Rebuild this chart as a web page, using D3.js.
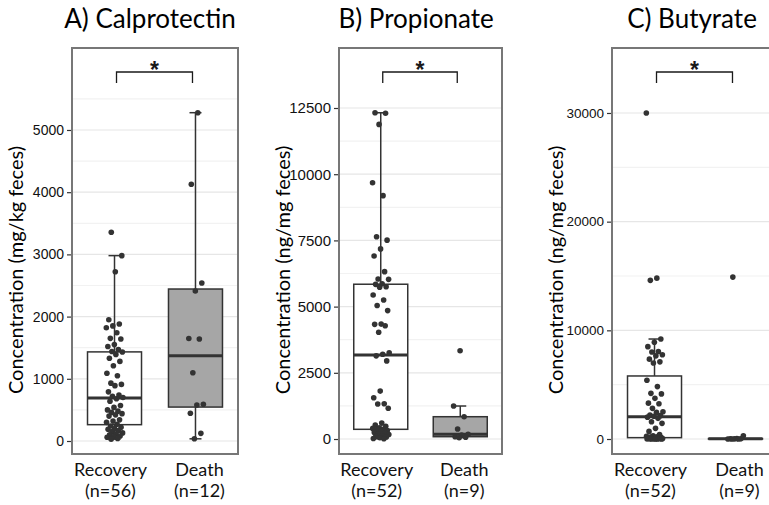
<!DOCTYPE html>
<html>
<head>
<meta charset="utf-8">
<script src="https://cdn.jsdelivr.net/npm/d3@7"></script>
<style>
body { margin: 0; background: #fff; }
svg text { font-family: "Liberation Sans", Arial, sans-serif; }
.lbl { font-family: Lato, "Open Sans", sans-serif !important; }
</style>
</head>
<body>
<script>
// categories
var groups = ["Recovery", "Death"];

// A) calprotectin, mg/kg feces
var calproRecovery = [3355, 2980, 2720, 1950, 1880, 1850, 1820, 1740, 1650, 1640, 1550, 1520, 1470, 1440,
  1430, 1390, 1330, 1280, 1210, 1090, 1050, 930, 910, 890, 790, 740, 720, 700,
  680, 640, 570, 540, 500, 480, 460, 440, 420, 400, 340, 320, 300, 270,
  240, 220, 200, 190, 170, 150, 130, 115, 100, 80, 70, 60, 40, 30];
var calproDeath = [5278, 4127, 2540, 2411, 1648, 1640, 1098, 590, 579, 445, 123, 35];

// B) propionate, ng/mg feces
var propRecovery = [12320, 12300, 11880, 9680, 9190, 7640, 7510, 7180, 6910, 6320, 6040, 6030, 5860,
  5840, 5750, 5730, 5440, 5250, 5040, 4850, 4340, 4330, 4280, 4030, 3260, 3200,
  3140, 2950, 1810, 1560, 1330, 1320, 1160, 600, 530, 480, 420, 400, 370,
  355, 320, 290, 250, 230, 200, 170, 120, 100, 80, 50, 20, 10];
var propDeath = [3335, 1246, 842, 377, 177, 151, 87, 64, 50];

// C) butyrate, ng/mg feces
var butyRecovery = [30000, 14800, 14600, 9200, 8900, 8500, 8050, 8000, 7750, 7650, 7350, 7100, 7000,
  5400, 4820, 4200, 4150, 3740, 3300, 3250, 2820, 2510, 2450, 2210, 2150, 2100,
  2010, 1900, 1590, 1440, 980, 700, 400, 300, 250, 200, 180, 160, 140,
  76, 60, 50, 40, 30, 25, 20, 15, 10, 8, 5, 3, 0];
var butyDeath = [14900, 300, 40, 20, 15, 10, 5, 0, 0];

var panelTitles = ["A) Calprotectin", "B) Propionate", "C) Butyrate"];
var yTitles = ["Concentration (mg/kg feces)", "Concentration (ng/mg feces)", "Concentration (ng/mg feces)"];
var majorTicks = [[0, 1000, 2000, 3000, 4000, 5000], [0, 2500, 5000, 7500, 10000, 12500], [0, 10000, 20000, 30000]];
var minorTicks = [[500, 1500, 2500, 3500, 4500, 5500], [1250, 3750, 6250, 8750, 11250], [5000, 15000, 25000]];
var yLimits = [[-209, 6318], [-566, 14766], [-1380, 35980]];
var sigLabel = "*";

var series = [[calproRecovery, calproDeath], [propRecovery, propDeath], [butyRecovery, butyDeath]];

// layout
var width = 769, height = 505;
var panelTop = 48, panelBottom = 454;
var layout = [
  {left: 72, right: 238, titleX: 150, yTitleX: 16, tickFont: 14},
  {left: 339, right: 502, titleX: 416, yTitleX: 283, tickFont: 15},
  {left: 612, right: 778, titleX: 692, yTitleX: 556, tickFont: 13.5}
];
var boxW = 54, capW = 12;
var fills = {Recovery: "#ffffff", Death: "#a6a6a6"};

var svg = d3.select("body").append("svg")
  .attr("width", width)
  .attr("height", height);

function boxStats(vals) {
  var s = vals.slice().sort(d3.ascending);
  var q1 = d3.quantile(s, 0.25), med = d3.quantile(s, 0.5), q3 = d3.quantile(s, 0.75);
  var iqr = q3 - q1;
  var inside = s.filter(function(v) { return v >= q1 - 1.5 * iqr && v <= q3 + 1.5 * iqr; });
  return {q1: q1, med: med, q3: q3, lo: d3.min(inside), hi: d3.max(inside)};
}

// deterministic spread so points don't stack
function jitter(i) { return ((i * 0.6180339887 + 0.31) % 1 - 0.5) * 17; }

layout.forEach(function(L, p) {
  var g = svg.append("g");
  var y = d3.scaleLinear().domain(yLimits[p]).range([panelBottom, panelTop]);
  var x = d3.scalePoint().domain(groups).range([L.left, L.right]).padding(0.525);

  // gridlines
  g.selectAll(".minor").data(minorTicks[p]).enter().append("line")
    .attr("x1", L.left).attr("x2", L.right)
    .attr("y1", function(d) { return y(d); }).attr("y2", function(d) { return y(d); })
    .attr("stroke", "#f2f2f2").attr("stroke-width", 1.2);
  g.selectAll(".major").data(majorTicks[p]).enter().append("line")
    .attr("x1", L.left).attr("x2", L.right)
    .attr("y1", function(d) { return y(d); }).attr("y2", function(d) { return y(d); })
    .attr("stroke", "#e6e6e6").attr("stroke-width", 1.2);

  // y axis
  var axis = g.append("g")
    .attr("transform", "translate(" + L.left + ",0)")
    .call(d3.axisLeft(y).tickValues(majorTicks[p]).tickSize(5).tickPadding(3).tickFormat(d3.format("d")));
  axis.select(".domain").remove();
  axis.selectAll(".tick line").attr("stroke", "#333").attr("stroke-width", 1.2);
  axis.selectAll(".tick text").attr("fill", "#111")
    .style("font-size", L.tickFont + "px").style("font-family", "'Liberation Sans', Arial, sans-serif");

  // boxes
  groups.forEach(function(grp, k) {
    var vals = series[p][k];
    var st = boxStats(vals);
    var cx = x(grp);
    var bg = g.append("g");
    bg.append("line").attr("x1", cx).attr("x2", cx).attr("y1", y(st.hi)).attr("y2", y(st.lo))
      .attr("stroke", "#333").attr("stroke-width", 1.5);
    [st.lo, st.hi].forEach(function(v) {
      bg.append("line").attr("x1", cx - capW / 2).attr("x2", cx + capW / 2)
        .attr("y1", y(v)).attr("y2", y(v)).attr("stroke", "#333").attr("stroke-width", 1.5);
    });
    bg.append("rect").attr("x", cx - boxW / 2).attr("width", boxW)
      .attr("y", y(st.q3)).attr("height", Math.max(0.5, y(st.q1) - y(st.q3)))
      .attr("fill", fills[grp]).attr("stroke", "#333").attr("stroke-width", 1.5);
    bg.append("line").attr("x1", cx - boxW / 2).attr("x2", cx + boxW / 2)
      .attr("y1", y(st.med)).attr("y2", y(st.med)).attr("stroke", "#333").attr("stroke-width", 3);

    bg.selectAll("circle").data(vals).enter().append("circle")
      .attr("cx", function(d, i) { return cx + jitter(i + k * 7 + p * 3); })
      .attr("cy", function(d) { return y(d); })
      .attr("r", 2.8)
      .attr("fill", "#333");

    // x labels
    var lx = cx + (k === 0 ? -4 : 4);
    g.append("text").attr("class", "lbl").attr("x", lx).attr("y", 476)
      .attr("text-anchor", "middle").style("font-size", "18px").attr("fill", "#111").text(grp);
    g.append("text").attr("class", "lbl").attr("x", lx).attr("y", 497)
      .attr("text-anchor", "middle").style("font-size", "18px").attr("fill", "#111")
      .text("(n=" + vals.length + ")");
  });

  // significance bracket
  var bx1 = x(groups[0]) + 2, bx2 = x(groups[1]) - 3;
  g.append("path")
    .attr("d", "M" + bx1 + "," + 83 + "V72H" + bx2 + "V83")
    .attr("fill", "none").attr("stroke", "#1a1a1a").attr("stroke-width", 1.3);
  g.append("text").attr("x", (bx1 + bx2) / 2).attr("y", 78).attr("text-anchor", "middle")
    .style("font-size", "23px").style("font-weight", "bold").attr("fill", "#1a1a1a").text(sigLabel);

  // panel border
  g.append("rect").attr("x", L.left).attr("y", panelTop)
    .attr("width", L.right - L.left).attr("height", panelBottom - panelTop)
    .attr("fill", "none").attr("stroke", "#777").attr("stroke-width", 2);

  // titles
  g.append("text").attr("class", "lbl").attr("x", L.titleX).attr("y", 28)
    .attr("text-anchor", "middle").style("font-size", "26px").attr("fill", "#000").text(panelTitles[p]);
  g.append("text").attr("class", "lbl")
    .attr("transform", "translate(" + L.yTitleX + ",270) rotate(-90)")
    .attr("dy", "0.35em")
    .attr("text-anchor", "middle").style("font-size", "20px").attr("fill", "#000").text(yTitles[p]);
});
</script>
</body>
</html>
